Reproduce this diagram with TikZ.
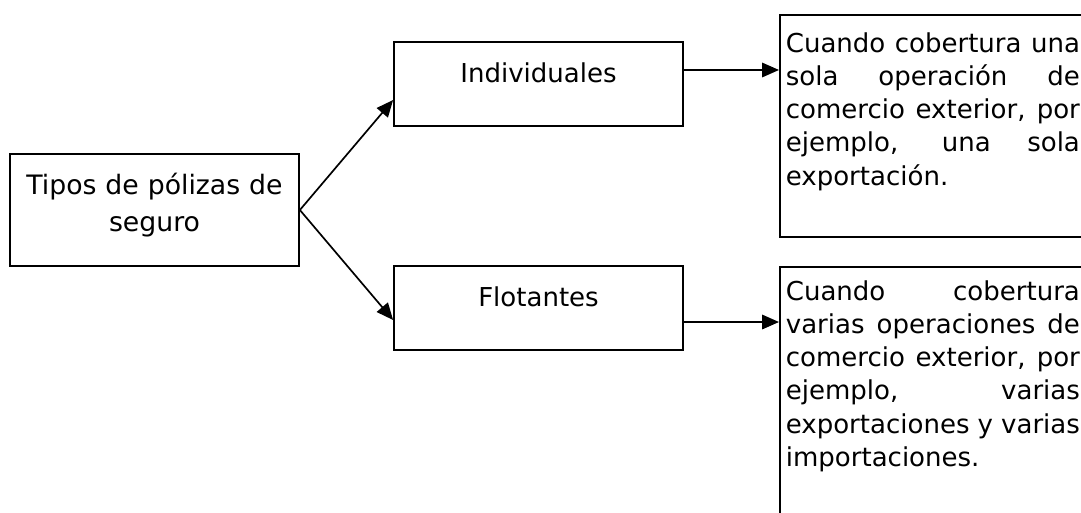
\documentclass[tikz,border=0pt]{standalone}
\usepackage{fontspec}
\setmainfont{DejaVu Sans}
\usetikzlibrary{arrows.meta}

\begin{document}
\begin{tikzpicture}[
    x=0.025cm, y=-0.025cm,
    font=\fontsize{18.5pt}{23.5pt}\selectfont,
    line width=1.2pt,
    >={Triangle[length=0.42cm, width=0.36cm]},
    root/.style={rectangle, draw, text width=7cm, align=center, inner xsep=0.1125cm, inner ysep=0.5cm,
        text height=0.525cm, text depth=1.275cm, font=\fontsize{19pt}{26.3pt}\selectfont},
    kind/.style={rectangle, draw, minimum width=7.225cm, inner ysep=0.5cm, text height=0.5cm, text depth=0.6cm},
    note/.style={rectangle, draw, anchor=north west, text width=7.35cm, align=justify, inner xsep=0.15cm, inner ysep=0.45cm, text height=0.5cm}
]
\clip (0,0) rectangle (1081,513);
% --- Root box (left) ---
\node[root] (Tipos) at (154.5,210) {Tipos de pólizas de\\seguro};
% --- Kinds of policy (middle) ---
\node[kind] (Ind) at (538.5,84) {Individuales};
\node[kind] (Flo) at (538.5,308) {Flotantes};
% --- Descriptions (right) ---
\node[note, text depth=4.15cm] (IndTxt) at (779,14) {Cuando cobertura una\linebreak sola operación de\linebreak comercio exterior, por\linebreak ejemplo, una sola\linebreak exportación.};
\node[note, inner ysep=0.35cm, text depth=6cm] (FloTxt) at (779,266) {Cuando cobertura\linebreak varias operaciones de\linebreak comercio exterior, por\linebreak ejemplo, varias\linebreak exportaciones y varias\linebreak importaciones.};
\coordinate (IndOut) at ([yshift=0.35cm]Ind.east);
\coordinate (FloOut) at ([yshift=-0.35cm]Flo.east);
\draw[->] (Tipos.east) -- ([yshift=-0.4cm]Ind.west);
\draw[->] (Tipos.east) -- ([yshift=-0.3cm]Flo.west);
\draw[->] (IndOut) -- (IndOut -| IndTxt.west);
\draw[->] (FloOut) -- (FloOut -| FloTxt.west);
\end{tikzpicture}
\end{document}
